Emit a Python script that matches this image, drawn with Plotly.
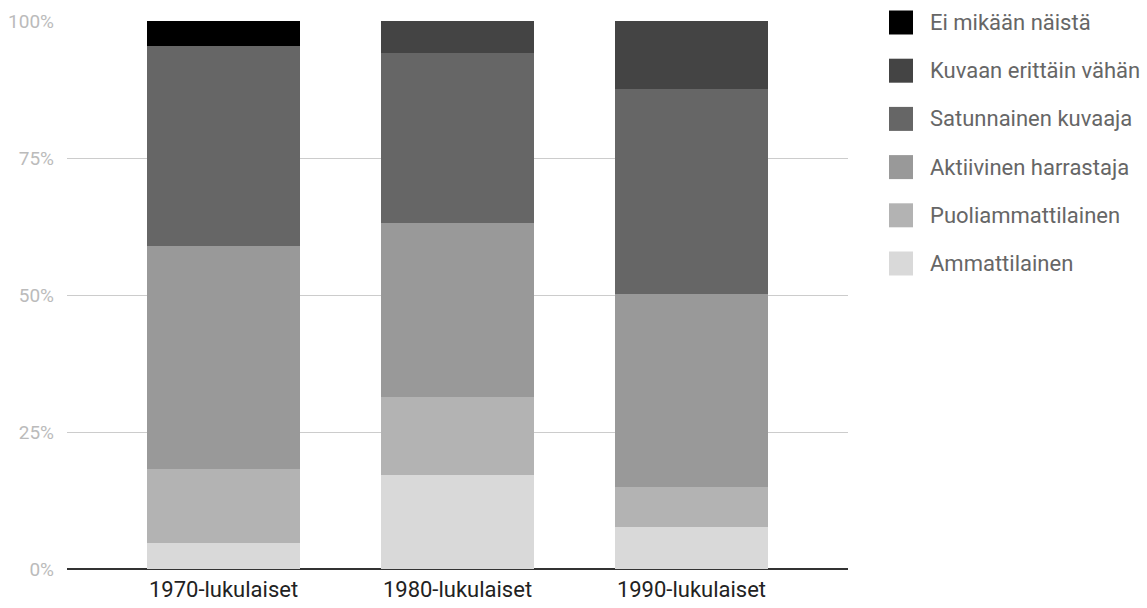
import plotly.graph_objects as go

categories = ["1970-lukulaiset", "1980-lukulaiset", "1990-lukulaiset"]

# series listed bottom of stack -> top of stack
series_names = [
    "Ammattilainen",
    "Puoliammattilainen",
    "Aktiivinen harrastaja",
    "Satunnainen kuvaaja",
    "Kuvaan erittäin vähän",
    "Ei mikään näistä",
]
ammattilainen = [4.7, 17.2, 7.6]
puoliammattilainen = [13.5, 14.2, 7.4]
aktiivinen = [40.8, 31.7, 35.2]
satunnainen = [36.4, 31.1, 37.4]
erittain_vahan = [0.0, 5.8, 12.4]
ei_mikaan = [4.6, 0.0, 0.0]
series_values = [ammattilainen, puoliammattilainen, aktiivinen,
                 satunnainen, erittain_vahan, ei_mikaan]
series_colors = ["#d9d9d9", "#b3b3b3", "#999999", "#666666", "#444444", "#000000"]

y_ticks = [0, 25, 50, 75, 100]
y_tick_labels = ["0%", "25%", "50%", "75%", "100%"]

W, H = 1147, 608
plot_left, plot_right, plot_top, plot_bottom = 67, 848, 21, 569  # screen px
plot_w = plot_right - plot_left
plot_h = plot_bottom - plot_top
ml = plot_left
mt = plot_top
mr = W - ml - plot_w
mb = H - mt - plot_h

fig = go.Figure()
for name, vals, col in zip(series_names, series_values, series_colors):
    fig.add_trace(go.Bar(
        x=categories, y=vals, name=name,
        marker=dict(color=col, line=dict(width=0)),
        width=0.65, showlegend=False,
    ))

# custom legend (top entry = top of stack)
shapes = []
annotations = []
sw = 24
first_center = 22.5
step = 48.2
for i, (name, col) in enumerate(zip(reversed(series_names), reversed(series_colors))):
    cy = first_center + i * step
    x0 = (889 - plot_left) / plot_w
    x1 = (889 + sw - plot_left) / plot_w
    y0 = (plot_bottom - (cy + sw / 2)) / plot_h
    y1 = (plot_bottom - (cy - sw / 2)) / plot_h
    shapes.append(dict(type="rect", xref="paper", yref="paper",
                       x0=x0, x1=x1, y0=y0, y1=y1,
                       fillcolor=col, line=dict(width=0), layer="above"))
    annotations.append(dict(xref="paper", yref="paper",
                            x=(928 - plot_left) / plot_w, y=(plot_bottom - cy) / plot_h,
                            xanchor="left", yanchor="middle", showarrow=False,
                            text=name, font=dict(family="Roboto", size=22, color="#666666")))

fig.update_layout(
    width=W, height=H,
    margin=dict(l=ml, r=mr, t=mt, b=mb, pad=0, autoexpand=False),
    barmode="stack",
    plot_bgcolor="white", paper_bgcolor="white",
    showlegend=False,
    shapes=shapes,
    annotations=annotations,
    font=dict(family="Roboto"),
    xaxis=dict(
        range=[-0.669, 2.669], showgrid=False, zeroline=False,
        showline=False, ticks="", automargin=False,
        tickfont=dict(family="Roboto", size=22, color="#222222"),
        ticklabelstandoff=5,
    ),
    yaxis=dict(
        range=[0, 100], tickvals=y_ticks, ticktext=y_tick_labels,
        showgrid=True, gridcolor="#cccccc", gridwidth=1,
        zeroline=True, zerolinecolor="#333333", zerolinewidth=2,
        showline=False, ticks="", automargin=False,
        tickfont=dict(family="Roboto", size=19, color="#bbbbbb"),
        ticklabelstandoff=12,
    ),
)

fig.write_html(
    "out.html",
    config={"displayModeBar": False},
    post_script="document.body.style.margin='0';document.body.style.overflow='hidden';",
)
